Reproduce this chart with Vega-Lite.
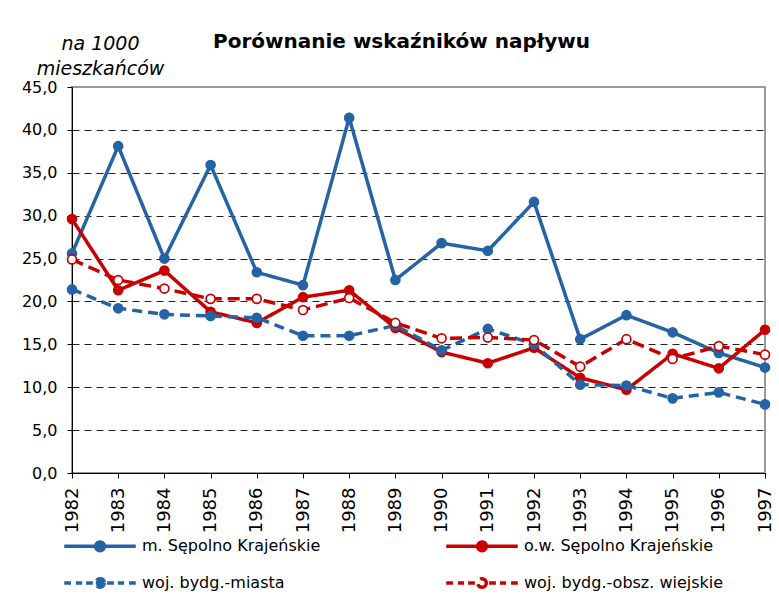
{
  "$schema": "https://vega.github.io/schema/vega-lite/v6.json",
  "width": 693,
  "height": 386,
  "autosize": {"type": "none"},
  "padding": {"left": 72, "top": 87, "right": 14, "bottom": 124},
  "background": "white",
  "title": {
    "text": "Porównanie wskaźników napływu",
    "anchor": "middle",
    "frame": "group",
    "dx": -17,
    "offset": -34,
    "baseline": "alphabetic",
    "font": "DejaVu Sans",
    "fontSize": 20,
    "fontWeight": "bold",
    "color": "black"
  },
  "config": {
    "view": {"stroke": "#999999", "strokeWidth": 2},
    "axis": {
      "labelFont": "DejaVu Sans",
      "labelColor": "black",
      "domainColor": "black",
      "domainWidth": 1,
      "tickColor": "black",
      "tickSize": 5
    }
  },
  "data": {
    "values": [
      {"year": "1982", "series": "m. Sępolno Krajeńskie", "value": 25.6},
      {"year": "1983", "series": "m. Sępolno Krajeńskie", "value": 38.1},
      {"year": "1984", "series": "m. Sępolno Krajeńskie", "value": 25.0},
      {"year": "1985", "series": "m. Sępolno Krajeńskie", "value": 35.9},
      {"year": "1986", "series": "m. Sępolno Krajeńskie", "value": 23.4},
      {"year": "1987", "series": "m. Sępolno Krajeńskie", "value": 21.9},
      {"year": "1988", "series": "m. Sępolno Krajeńskie", "value": 41.4},
      {"year": "1989", "series": "m. Sępolno Krajeńskie", "value": 22.5},
      {"year": "1990", "series": "m. Sępolno Krajeńskie", "value": 26.8},
      {"year": "1991", "series": "m. Sępolno Krajeńskie", "value": 25.9},
      {"year": "1992", "series": "m. Sępolno Krajeńskie", "value": 31.6},
      {"year": "1993", "series": "m. Sępolno Krajeńskie", "value": 15.6},
      {"year": "1994", "series": "m. Sępolno Krajeńskie", "value": 18.4},
      {"year": "1995", "series": "m. Sępolno Krajeńskie", "value": 16.4},
      {"year": "1996", "series": "m. Sępolno Krajeńskie", "value": 14.0},
      {"year": "1997", "series": "m. Sępolno Krajeńskie", "value": 12.3},
      {"year": "1982", "series": "o.w. Sępolno Krajeńskie", "value": 29.6},
      {"year": "1983", "series": "o.w. Sępolno Krajeńskie", "value": 21.3},
      {"year": "1984", "series": "o.w. Sępolno Krajeńskie", "value": 23.6},
      {"year": "1985", "series": "o.w. Sępolno Krajeńskie", "value": 18.8},
      {"year": "1986", "series": "o.w. Sępolno Krajeńskie", "value": 17.5},
      {"year": "1987", "series": "o.w. Sępolno Krajeńskie", "value": 20.5},
      {"year": "1988", "series": "o.w. Sępolno Krajeńskie", "value": 21.3},
      {"year": "1989", "series": "o.w. Sępolno Krajeńskie", "value": 16.9},
      {"year": "1990", "series": "o.w. Sępolno Krajeńskie", "value": 14.1},
      {"year": "1991", "series": "o.w. Sępolno Krajeńskie", "value": 12.8},
      {"year": "1992", "series": "o.w. Sępolno Krajeńskie", "value": 14.6},
      {"year": "1993", "series": "o.w. Sępolno Krajeńskie", "value": 11.1},
      {"year": "1994", "series": "o.w. Sępolno Krajeńskie", "value": 9.7},
      {"year": "1995", "series": "o.w. Sępolno Krajeńskie", "value": 13.9},
      {"year": "1996", "series": "o.w. Sępolno Krajeńskie", "value": 12.2},
      {"year": "1997", "series": "o.w. Sępolno Krajeńskie", "value": 16.7},
      {"year": "1982", "series": "woj. bydg.-miasta", "value": 21.4},
      {"year": "1983", "series": "woj. bydg.-miasta", "value": 19.2},
      {"year": "1984", "series": "woj. bydg.-miasta", "value": 18.5},
      {"year": "1985", "series": "woj. bydg.-miasta", "value": 18.3},
      {"year": "1986", "series": "woj. bydg.-miasta", "value": 18.1},
      {"year": "1987", "series": "woj. bydg.-miasta", "value": 16.0},
      {"year": "1988", "series": "woj. bydg.-miasta", "value": 16.0},
      {"year": "1989", "series": "woj. bydg.-miasta", "value": 17.2},
      {"year": "1990", "series": "woj. bydg.-miasta", "value": 14.3},
      {"year": "1991", "series": "woj. bydg.-miasta", "value": 16.8},
      {"year": "1992", "series": "woj. bydg.-miasta", "value": 15.0},
      {"year": "1993", "series": "woj. bydg.-miasta", "value": 10.3},
      {"year": "1994", "series": "woj. bydg.-miasta", "value": 10.2},
      {"year": "1995", "series": "woj. bydg.-miasta", "value": 8.7},
      {"year": "1996", "series": "woj. bydg.-miasta", "value": 9.4},
      {"year": "1997", "series": "woj. bydg.-miasta", "value": 8.0},
      {"year": "1982", "series": "woj. bydg.-obsz. wiejskie", "value": 24.9},
      {"year": "1983", "series": "woj. bydg.-obsz. wiejskie", "value": 22.5},
      {"year": "1984", "series": "woj. bydg.-obsz. wiejskie", "value": 21.5},
      {"year": "1985", "series": "woj. bydg.-obsz. wiejskie", "value": 20.3},
      {"year": "1986", "series": "woj. bydg.-obsz. wiejskie", "value": 20.3},
      {"year": "1987", "series": "woj. bydg.-obsz. wiejskie", "value": 19.0},
      {"year": "1988", "series": "woj. bydg.-obsz. wiejskie", "value": 20.4},
      {"year": "1989", "series": "woj. bydg.-obsz. wiejskie", "value": 17.5},
      {"year": "1990", "series": "woj. bydg.-obsz. wiejskie", "value": 15.7},
      {"year": "1991", "series": "woj. bydg.-obsz. wiejskie", "value": 15.8},
      {"year": "1992", "series": "woj. bydg.-obsz. wiejskie", "value": 15.5},
      {"year": "1993", "series": "woj. bydg.-obsz. wiejskie", "value": 12.4},
      {"year": "1994", "series": "woj. bydg.-obsz. wiejskie", "value": 15.6},
      {"year": "1995", "series": "woj. bydg.-obsz. wiejskie", "value": 13.3},
      {"year": "1996", "series": "woj. bydg.-obsz. wiejskie", "value": 14.8},
      {"year": "1997", "series": "woj. bydg.-obsz. wiejskie", "value": 13.8}
    ]
  },
  "encoding": {
    "x": {
      "field": "year",
      "type": "ordinal",
      "scale": {"type": "point", "padding": 0},
      "axis": {
        "title": null,
        "labelAngle": 270,
        "labelAlign": "right",
        "labelBaseline": "middle",
        "labelFontSize": 18,
        "labelPadding": 9,
        "grid": false
      }
    },
    "y": {
      "field": "value",
      "type": "quantitative",
      "scale": {"domain": [0, 45], "nice": false, "zero": true},
      "axis": {
        "values": [0, 5, 10, 15, 20, 25, 30, 35, 40, 45],
        "labelExpr": "replace(format(datum.value, '.1f'), '.', ',')",
        "labelFontSize": 16,
        "labelPadding": 10,
        "grid": true,
        "gridColor": "#222222",
        "gridWidth": 1,
        "gridDash": [7, 5],
        "gridOpacity": {"condition": {"test": "datum.value === 0 || datum.value === 45", "value": 0}, "value": 1},
        "title": ["na 1000", "mieszkańców"],
        "titleAngle": 0,
        "titleAlign": "center",
        "titleBaseline": "alphabetic",
        "titleX": 28,
        "titleY": -38,
        "titleLineHeight": 25,
        "titleFont": "DejaVu Sans",
        "titleFontSize": 19,
        "titleFontStyle": "italic",
        "titleFontWeight": "normal",
        "titleColor": "black"
      }
    }
  },
  "layer": [
    {
      "mark": {"type": "line"},
      "encoding": {
        "color": {
          "field": "series",
          "type": "nominal",
          "scale": {
            "domain": ["m. Sępolno Krajeńskie", "o.w. Sępolno Krajeńskie", "woj. bydg.-miasta", "woj. bydg.-obsz. wiejskie"],
            "range": ["#2463A6", "#C80000", "#2463A6", "#C80000"]
          },
          "legend": {
            "orient": "none",
            "legendX": 20,
            "legendY": 451,
            "columns": 2,
            "direction": "horizontal",
            "title": null,
            "padding": 0,
            "labelFont": "DejaVu Sans",
            "labelFontSize": 16,
            "labelColor": "black",
            "labelLimit": 400,
            "labelOffset": 34,
            "symbolSize": 144,
            "columnPadding": 118,
            "rowPadding": 13,
            "encode": {
              "symbols": {
                "update": {
                  "shape": {"signal": "indexof(datum.value, 'woj.') === 0 ? 'M-8,0H-6.5M-5.4,0H-4M-3.1,0H-1.6M1.6,0H3.1M4,0H5.4M6.5,0H8M0.97,0A0.97,0.97,0,0,1,0,0.97A0.97,0.97,0,0,1,-0.97,0A0.97,0.97,0,0,1,0,-0.97A0.97,0.97,0,0,1,0.97,0Z' : 'M-8,0H-0.97M0.97,0H8M0.97,0A0.97,0.97,0,0,1,0,0.97A0.97,0.97,0,0,1,-0.97,0A0.97,0.97,0,0,1,0,-0.97A0.97,0.97,0,0,1,0.97,0Z'"},
                  "fill": {"signal": "datum.value === 'woj. bydg.-obsz. wiejskie' ? 'white' : scale('color', datum.value)"},
                  "stroke": {"signal": "scale('color', datum.value)"},
                  "strokeWidth": {"signal": "indexof(datum.value, 'woj.') === 0 ? 2.5 : 3.5"},
                  "strokeDash": {"value": [200, 0]},
                  "opacity": {"value": 1},
                  "fillOpacity": {"value": 1},
                  "size": {"value": 144}
                }
              }
            }
          }
        },
        "strokeDash": {
          "field": "series",
          "type": "nominal",
          "scale": {
            "domain": ["m. Sępolno Krajeńskie", "o.w. Sępolno Krajeńskie", "woj. bydg.-miasta", "woj. bydg.-obsz. wiejskie"],
            "range": [[1, 0], [1, 0], [10, 6], [12, 6]]
          },
          "legend": null
        },
        "strokeWidth": {
          "field": "series",
          "type": "nominal",
          "scale": {
            "domain": ["m. Sępolno Krajeńskie", "o.w. Sępolno Krajeńskie", "woj. bydg.-miasta", "woj. bydg.-obsz. wiejskie"],
            "range": [3.5, 3.5, 2.5, 2.7]
          },
          "legend": null
        }
      }
    },
    {
      "mark": {"type": "point", "filled": true, "strokeWidth": 1.7, "opacity": 1},
      "encoding": {
        "fill": {
          "field": "series",
          "type": "nominal",
          "scale": {
            "domain": ["m. Sępolno Krajeńskie", "o.w. Sępolno Krajeńskie", "woj. bydg.-miasta", "woj. bydg.-obsz. wiejskie"],
            "range": ["#2463A6", "#C80000", "#2463A6", "#FFFFFF"]
          },
          "legend": null
        },
        "stroke": {
          "field": "series",
          "type": "nominal",
          "scale": {
            "domain": ["m. Sępolno Krajeńskie", "o.w. Sępolno Krajeńskie", "woj. bydg.-miasta", "woj. bydg.-obsz. wiejskie"],
            "range": ["#2463A6", "#C80000", "#2463A6", "#C80000"]
          },
          "legend": null
        },
        "size": {
          "field": "series",
          "type": "nominal",
          "scale": {
            "domain": ["m. Sępolno Krajeńskie", "o.w. Sępolno Krajeńskie", "woj. bydg.-miasta", "woj. bydg.-obsz. wiejskie"],
            "range": [80, 80, 80, 54]
          },
          "legend": null
        }
      }
    }
  ]
}
